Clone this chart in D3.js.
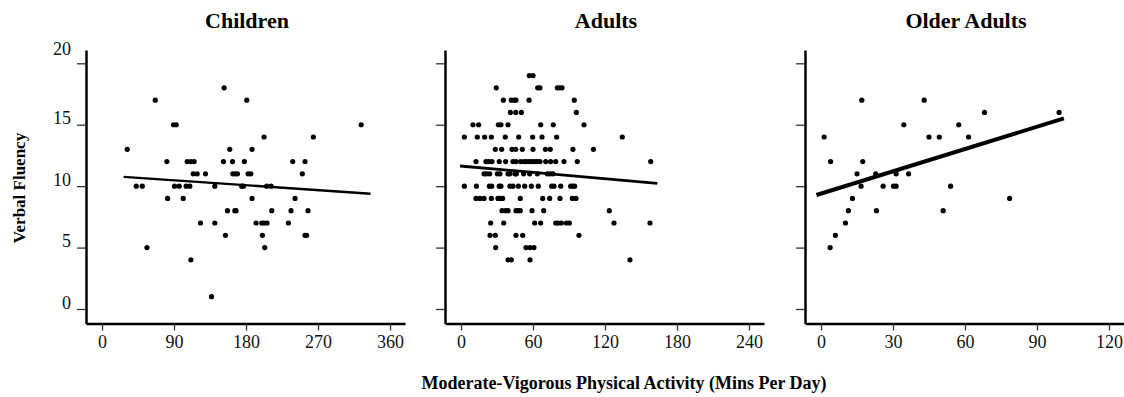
<!DOCTYPE html>
<html>
<head>
<meta charset="utf-8">
<script src="https://cdn.jsdelivr.net/npm/d3@7"></script>
<style>
  html, body { margin: 0; padding: 0; background: #fff; }
  svg { display: block; font-family: "Liberation Serif", "Times New Roman", serif; }
  .axis .domain { stroke: #000; stroke-width: 2.5px; }
  .axis .tick line { stroke: #333; stroke-width: 1.3px; }
  .axis .tick text { fill: #111; font-size: 18px; font-family: "Liberation Serif", serif; }
  .title { font-size: 22px; font-weight: bold; }
  .axis-label { font-size: 17px; font-weight: bold; }
  .x-label { font-size: 18px; }
</style>
</head>
<body>
<svg id="chart" width="1124" height="397"></svg>
<script>
// panel titles and ticks
const panelTitles = ["Children", "Adults", "Older Adults"]
const xTicks = [
    [0, 90, 180, 270, 360],
    [0, 60, 120, 180, 240],
    [0, 30, 60, 90, 120],
]
const yTicks = [0, 5, 10, 15, 20]

// Children: MVPA (mins/day) and verbal fluency
const childrenMvpa = [31.6, 66.6, 42.8, 50.3, 56.2, 81.1, 82, 89.4, 92.8, 90.7, 96.5, 101.5, 105.2, 109.8,
    106.5, 111.1, 115.2, 114, 119, 111.1, 123.1, 129.4, 136.9, 141, 141, 151.8, 152.7, 154.3, 156.8,
    159.7, 163.1, 163.5, 166.4, 169.3, 166, 167.6, 174.7, 176.8, 178, 181, 182.6, 186, 187.6, 187.6,
    192.6, 199.7, 202.6, 206.3, 200.5, 202.6, 203.4, 205.9, 211.3, 212.2, 233, 236.3, 238.4, 241.3,
    250.4, 253.8, 253.8, 255.8, 257.5, 264.2, 324]
const childrenFluency = [13, 17, 10, 10, 5, 12, 9, 15, 15, 10, 10, 9, 10, 10,
    12, 12, 12, 11, 11, 4, 7, 11, 1, 10, 7, 12, 18, 6, 8,
    13, 12, 11, 11, 11, 8, 8, 10, 10, 12, 17, 11, 11, 13, 9,
    7, 7, 7, 7, 6, 14, 5, 10, 10, 8, 7, 8, 12, 9,
    11, 12, 6, 6, 8, 14, 15]

// Adults
const adultsMvpa = [
    56.9, 60,
    29.4, 63.9, 65.8, 80.3, 82.2, 84.2,
    35.3, 41.9, 44.2, 45.8, 56.7, 94.4,
    41.1, 45.6, 50.3, 96.1,
    10, 14.7, 31.1, 33.3, 39.2, 66.4, 76.9, 102.5,
    2.8, 13.6, 19.7, 25.3, 36.9, 48.1, 59.7, 67.5, 79.7, 134.4,
    28.6, 33.9, 42.5, 45.6, 51.1, 60, 70.3, 74.4, 93.3, 110.3,
    12.5, 20.8, 23.1, 25.8, 31.9, 37.2, 43.3, 45.8, 49.7, 52.5, 54.7, 56.9, 59.2, 61.4, 63.3, 65.8, 70.6, 74.7, 78.9, 85.8, 96.9, 158.1,
    19.2, 21.1, 23.9, 30.3, 32.5, 39.2, 40.8, 45, 46.1, 52.2, 57.2, 63.6, 71.9, 74.2, 76.7,
    2.8, 12.8, 23.6, 25.6, 31.9, 33.3, 40.8, 43.3, 47.8, 53.1, 58.6, 64.4, 75.6, 77.5, 83.1, 91.4, 93.1, 94.7,
    12.5, 15.8, 19.2, 25.3, 30.8, 32.5, 34.7, 49.4, 68.1, 73.9, 82.5, 92.8, 95.8,
    34.2, 37.2, 39.2, 45.8, 47.8, 49.4, 59.2, 68.9, 123.6,
    24.7, 35.6, 61.4, 66.4, 78.9, 80.8, 83.6, 87.8, 90.3, 127.5, 157.5,
    24.2, 28.6, 45.8, 51.4, 98.3,
    28.9, 54.2, 57.5, 60.8,
    39.2, 41.9, 57.5, 140.8]
const adultsFluency = [
    19, 19,
    18, 18, 18, 18, 18, 18,
    17, 17, 17, 17, 17, 17,
    16, 16, 16, 16,
    15, 15, 15, 15, 15, 15, 15, 15,
    14, 14, 14, 14, 14, 14, 14, 14, 14, 14,
    13, 13, 13, 13, 13, 13, 13, 13, 13, 13,
    12, 12, 12, 12, 12, 12, 12, 12, 12, 12, 12, 12, 12, 12, 12, 12, 12, 12, 12, 12, 12, 12,
    11, 11, 11, 11, 11, 11, 11, 11, 11, 11, 11, 11, 11, 11, 11,
    10, 10, 10, 10, 10, 10, 10, 10, 10, 10, 10, 10, 10, 10, 10, 10, 10, 10,
    9, 9, 9, 9, 9, 9, 9, 9, 9, 9, 9, 9, 9,
    8, 8, 8, 8, 8, 8, 8, 8, 8,
    7, 7, 7, 7, 7, 7, 7, 7, 7, 7, 7,
    6, 6, 6, 6, 6,
    5, 5, 5, 5,
    4, 4, 4, 4]

// Older adults
const olderMvpa = [1.3, 4, 6, 3.8, 10.2, 11.4, 13.1, 15, 16.7, 17, 17.4, 22.8, 23.1, 25.9, 30.2, 31.3,
    31.3, 34.5, 36.5, 43, 45, 49.3, 50.9, 54, 57.4, 61.5, 68.1, 78.6, 99.2]
const olderFluency = [14, 12, 6, 5, 7, 8, 9, 11, 10, 17, 12, 11, 8, 10, 10, 10,
    11, 15, 11, 17, 14, 14, 8, 10, 15, 14, 16, 9, 16]

// fit lines: [x1, y1, x2, y2]
const childrenFit = [27, 10.76, 335.7, 9.38]
const adultsFit = [-0.8, 11.64, 163.6, 10.23]
const olderFit = [-1.9, 9.28, 101.2, 15.51]

const panels = [
    { x: childrenMvpa, y: childrenFluency, fit: childrenFit, fitWidth: 2.3 },
    { x: adultsMvpa, y: adultsFluency, fit: adultsFit, fitWidth: 2.8 },
    { x: olderMvpa, y: olderFluency, fit: olderFit, fitWidth: 4 },
]

const svg = d3.select("#chart")

const panelLeft = [86, 445, 805]
const axisTop = 50
const axisBottom = 323.5
const axisLength = 319
const tickStart = 16
const tickSpan = 288

/** y scale shared by the panels */
const yScale = d3.scaleLinear().domain([0, 20]).range([309, 63.3])

panels.forEach((p, i) => {
    const x0 = panelLeft[i]
    const ticks = xTicks[i]
    const xScale = d3.scaleLinear()
        .domain([0, ticks[ticks.length - 1]])
        .range([x0 + tickStart, x0 + tickStart + tickSpan])

    // axis scales stretched to the full axis lines
    const xAxisScale = xScale.copy()
        .domain([xScale.invert(x0), xScale.invert(x0 + axisLength)])
        .range([x0, x0 + axisLength])
    const yAxisScale = yScale.copy()
        .domain([yScale.invert(axisBottom), yScale.invert(axisTop)])
        .range([axisBottom, axisTop])

    // x axis
    const gx = svg.append("g")
        .attr("class", "axis")
        .attr("transform", `translate(0,${axisBottom})`)
        .call(d3.axisBottom(xAxisScale).tickValues(ticks).tickSize(7).tickSizeOuter(0))
    gx.selectAll(".tick text").attr("y", 24.5).attr("dy", 0)

    // y axis
    const gy = svg.append("g")
        .attr("class", "axis")
        .attr("transform", `translate(${x0},0)`)
        .call(d3.axisLeft(yAxisScale).tickValues(yTicks).tickSize(9).tickSizeOuter(0))
    if (i === 0) {
        gy.selectAll(".tick text")
            .attr("x", -15)
            .attr("dy", d => d === 20 ? -9 : -1)
    } else {
        gy.selectAll(".tick text").remove()
    }

    // points
    svg.append("g")
        .selectAll("circle")
        .data(p.x.map((v, k) => [v, p.y[k]]))
        .enter()
        .append("circle")
        .attr("cx", d => xScale(d[0]))
        .attr("cy", d => yScale(d[1]))
        .attr("r", 2.6)
        .attr("fill", "#000")

    // fit line
    svg.append("line")
        .attr("x1", xScale(p.fit[0]))
        .attr("y1", yScale(p.fit[1]))
        .attr("x2", xScale(p.fit[2]))
        .attr("y2", yScale(p.fit[3]))
        .attr("stroke", "#000")
        .attr("stroke-width", p.fitWidth)

    // title
    svg.append("text")
        .attr("class", "title")
        .attr("x", x0 + 161)
        .attr("y", 28)
        .attr("text-anchor", "middle")
        .text(panelTitles[i])
})

// y axis label
svg.append("text")
    .attr("class", "axis-label")
    .attr("transform", "translate(25,188) rotate(-90)")
    .attr("text-anchor", "middle")
    .text("Verbal Fluency")

// x axis label
svg.append("text")
    .attr("class", "axis-label x-label")
    .attr("x", 624)
    .attr("y", 389)
    .attr("text-anchor", "middle")
    .text("Moderate-Vigorous Physical Activity (Mins Per Day)")
</script>
</body>
</html>
